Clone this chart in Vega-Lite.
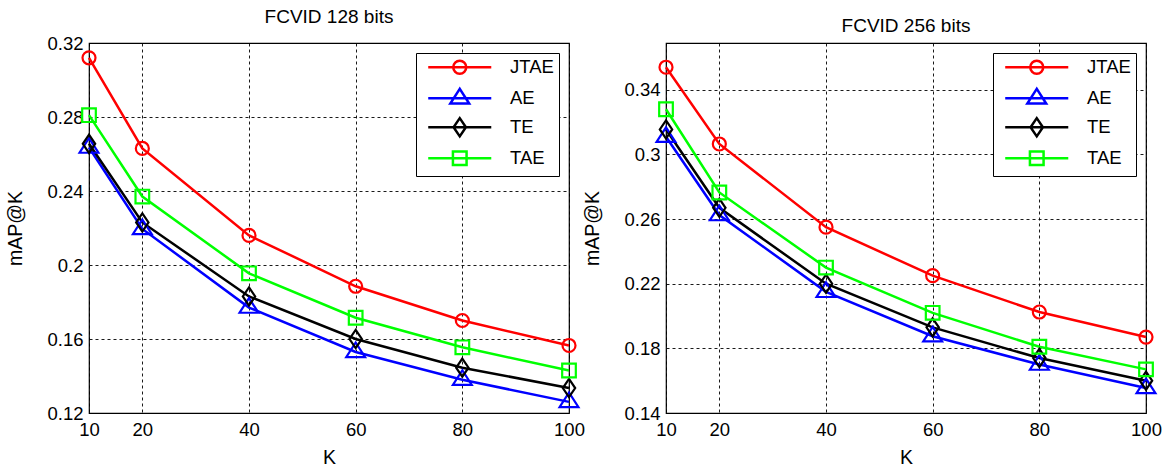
{
  "$schema": "https://vega.github.io/schema/vega-lite/v6.json",
  "background": "white",
  "padding": {"left": 5, "top": 7, "right": 5, "bottom": 5},
  "config": {
    "font": "Liberation Sans",
    "view": {"stroke": "black", "strokeWidth": 1.2},
    "axis": {
      "grid": true, "gridColor": "black", "gridDash": [3, 3], "gridWidth": 0.9, "gridOpacity": 1,
      "domain": false, "ticks": false, "labelFlush": false, "labelOverlap": false,
      "labelFont": "Liberation Sans", "labelFontSize": 18.5, "labelColor": "black",
      "titleFont": "Liberation Sans", "titleFontSize": 19.5, "titleFontWeight": "normal", "titleColor": "black"
    },
    "title": {"font": "Liberation Sans", "fontSize": 19, "fontWeight": "normal", "color": "black", "offset": 7},
    "legend": {
      "orient": "top-right", "offset": 10, "fillColor": "white", "strokeColor": "black",
      "padding": 5, "labelFont": "Liberation Sans", "labelFontSize": 18.5, "labelColor": "black",
      "symbolOffset": 29.5, "labelOffset": 41, "rowPadding": 4, "symbolSize": 169, "symbolStrokeWidth": 2.5, "cornerRadius": 0
    }
  },
  "data": {"values": [
    {"bits": "128", "K": 10, "series": "JTAE", "v": 0.312},
    {"bits": "128", "K": 20, "series": "JTAE", "v": 0.263},
    {"bits": "128", "K": 40, "series": "JTAE", "v": 0.216},
    {"bits": "128", "K": 60, "series": "JTAE", "v": 0.1885},
    {"bits": "128", "K": 80, "series": "JTAE", "v": 0.170},
    {"bits": "128", "K": 100, "series": "JTAE", "v": 0.1565},
    {"bits": "128", "K": 10, "series": "AE", "v": 0.2635},
    {"bits": "128", "K": 20, "series": "AE", "v": 0.2195},
    {"bits": "128", "K": 40, "series": "AE", "v": 0.177},
    {"bits": "128", "K": 60, "series": "AE", "v": 0.153},
    {"bits": "128", "K": 80, "series": "AE", "v": 0.138},
    {"bits": "128", "K": 100, "series": "AE", "v": 0.126},
    {"bits": "128", "K": 10, "series": "TE", "v": 0.2655},
    {"bits": "128", "K": 20, "series": "TE", "v": 0.223},
    {"bits": "128", "K": 40, "series": "TE", "v": 0.183},
    {"bits": "128", "K": 60, "series": "TE", "v": 0.160},
    {"bits": "128", "K": 80, "series": "TE", "v": 0.1445},
    {"bits": "128", "K": 100, "series": "TE", "v": 0.1335},
    {"bits": "128", "K": 10, "series": "TAE", "v": 0.281},
    {"bits": "128", "K": 20, "series": "TAE", "v": 0.237},
    {"bits": "128", "K": 40, "series": "TAE", "v": 0.1955},
    {"bits": "128", "K": 60, "series": "TAE", "v": 0.1715},
    {"bits": "128", "K": 80, "series": "TAE", "v": 0.1555},
    {"bits": "128", "K": 100, "series": "TAE", "v": 0.143},
    {"bits": "256", "K": 10, "series": "JTAE", "v": 0.354},
    {"bits": "256", "K": 20, "series": "JTAE", "v": 0.3065},
    {"bits": "256", "K": 40, "series": "JTAE", "v": 0.255},
    {"bits": "256", "K": 60, "series": "JTAE", "v": 0.225},
    {"bits": "256", "K": 80, "series": "JTAE", "v": 0.2025},
    {"bits": "256", "K": 100, "series": "JTAE", "v": 0.187},
    {"bits": "256", "K": 10, "series": "AE", "v": 0.311},
    {"bits": "256", "K": 20, "series": "AE", "v": 0.2625},
    {"bits": "256", "K": 40, "series": "AE", "v": 0.215},
    {"bits": "256", "K": 60, "series": "AE", "v": 0.1875},
    {"bits": "256", "K": 80, "series": "AE", "v": 0.170},
    {"bits": "256", "K": 100, "series": "AE", "v": 0.1555},
    {"bits": "256", "K": 10, "series": "TE", "v": 0.3155},
    {"bits": "256", "K": 20, "series": "TE", "v": 0.267},
    {"bits": "256", "K": 40, "series": "TE", "v": 0.220},
    {"bits": "256", "K": 60, "series": "TE", "v": 0.193},
    {"bits": "256", "K": 80, "series": "TE", "v": 0.174},
    {"bits": "256", "K": 100, "series": "TE", "v": 0.160},
    {"bits": "256", "K": 10, "series": "TAE", "v": 0.328},
    {"bits": "256", "K": 20, "series": "TAE", "v": 0.2765},
    {"bits": "256", "K": 40, "series": "TAE", "v": 0.230},
    {"bits": "256", "K": 60, "series": "TAE", "v": 0.202},
    {"bits": "256", "K": 80, "series": "TAE", "v": 0.181},
    {"bits": "256", "K": 100, "series": "TAE", "v": 0.167}
  ]},
  "bounds": "flush",
  "spacing": 97,
  "hconcat": [
    {
      "width": 480, "height": 370,
      "title": "FCVID 128 bits",
      "transform": [{"filter": "datum.bits == '128'"}],
      "layer": [
        {
          "mark": {"type": "line", "strokeWidth": 2.5},
          "encoding": {
            "x": {"field": "K", "type": "quantitative", "scale": {"domain": [10, 100], "nice": false, "zero": false}, "axis": {"values": [10, 20, 40, 60, 80, 100], "title": "K", "labelPadding": 7, "titlePadding": 10}},
            "y": {"field": "v", "type": "quantitative", "scale": {"domain": [0.12, 0.32], "nice": false, "zero": false}, "axis": {"values": [0.12, 0.16, 0.2, 0.24, 0.28, 0.32], "format": ".2~f", "title": "mAP@K", "labelPadding": 6, "titlePadding": 21}},
            "color": {"field": "series", "type": "nominal", "scale": {"domain": ["JTAE", "AE", "TE", "TAE"], "range": ["#ff0000", "#0000ff", "#000000", "#00ff00"]}, "legend": null}
          }
        },
        {
          "mark": {"type": "point", "filled": false, "size": 169, "strokeWidth": 2.2, "opacity": 1},
          "encoding": {
            "x": {"field": "K", "type": "quantitative"},
            "y": {"field": "v", "type": "quantitative"},
            "color": {"field": "series", "type": "nominal", "scale": {"domain": ["JTAE", "AE", "TE", "TAE"], "range": ["#ff0000", "#0000ff", "#000000", "#00ff00"]}, "legend": null},
            "shape": {"field": "series", "type": "nominal", "scale": {"domain": ["JTAE", "AE", "TE", "TAE"], "range": ["M1,0A1,1,0,1,1,-1,0A1,1,0,1,1,1,0Z", "M0,-1.45L-1.45,0.8L1.45,0.8Z", "M0,-1.4L0.95,0L0,1.4L-0.95,0Z", "M-1.05,-1.05L1.05,-1.05L1.05,1.05L-1.05,1.05Z"]}, "legend": null}
          }
        },
        {
          "transform": [{"filter": "datum.K < 0"}],
          "mark": {"type": "point", "filled": false, "size": 169, "strokeWidth": 2.5, "opacity": 1},
          "encoding": {
            "color": {"field": "series", "type": "nominal", "scale": {"domain": ["JTAE", "AE", "TE", "TAE"], "range": ["#ff0000", "#0000ff", "#000000", "#00ff00"]}, "legend": {"title": null}},
            "shape": {"field": "series", "type": "nominal", "scale": {"domain": ["JTAE", "AE", "TE", "TAE"], "range": ["M-4.85,0L4.85,0M1,0A1,1,0,1,1,-1,0A1,1,0,1,1,1,0", "M-4.85,0L4.85,0M0,-1.45L-1.45,0.8L1.45,0.8Z", "M-4.85,0L4.85,0M0,-1.4L0.95,0L0,1.4L-0.95,0Z", "M-4.85,0L4.85,0M-1.05,-1.05L1.05,-1.05L1.05,1.05L-1.05,1.05Z"]}, "legend": {"title": null}}
          }
        }
      ],
      "resolve": {"scale": {"color": "independent", "shape": "independent"}}
    },
    {
      "width": 480, "height": 370,
      "title": "FCVID 256 bits",
      "transform": [{"filter": "datum.bits == '256'"}],
      "layer": [
        {
          "mark": {"type": "line", "strokeWidth": 2.5},
          "encoding": {
            "x": {"field": "K", "type": "quantitative", "scale": {"domain": [10, 100], "nice": false, "zero": false}, "axis": {"values": [10, 20, 40, 60, 80, 100], "title": "K", "labelPadding": 7, "titlePadding": 10}},
            "y": {"field": "v", "type": "quantitative", "scale": {"domain": [0.14, 0.369], "nice": false, "zero": false}, "axis": {"values": [0.14, 0.18, 0.22, 0.26, 0.3, 0.34], "format": ".2~f", "title": "mAP@K", "labelPadding": 6, "titlePadding": 21}},
            "color": {"field": "series", "type": "nominal", "scale": {"domain": ["JTAE", "AE", "TE", "TAE"], "range": ["#ff0000", "#0000ff", "#000000", "#00ff00"]}, "legend": null}
          }
        },
        {
          "mark": {"type": "point", "filled": false, "size": 169, "strokeWidth": 2.2, "opacity": 1},
          "encoding": {
            "x": {"field": "K", "type": "quantitative"},
            "y": {"field": "v", "type": "quantitative"},
            "color": {"field": "series", "type": "nominal", "scale": {"domain": ["JTAE", "AE", "TE", "TAE"], "range": ["#ff0000", "#0000ff", "#000000", "#00ff00"]}, "legend": null},
            "shape": {"field": "series", "type": "nominal", "scale": {"domain": ["JTAE", "AE", "TE", "TAE"], "range": ["M1,0A1,1,0,1,1,-1,0A1,1,0,1,1,1,0Z", "M0,-1.45L-1.45,0.8L1.45,0.8Z", "M0,-1.4L0.95,0L0,1.4L-0.95,0Z", "M-1.05,-1.05L1.05,-1.05L1.05,1.05L-1.05,1.05Z"]}, "legend": null}
          }
        },
        {
          "transform": [{"filter": "datum.K < 0"}],
          "mark": {"type": "point", "filled": false, "size": 169, "strokeWidth": 2.5, "opacity": 1},
          "encoding": {
            "color": {"field": "series", "type": "nominal", "scale": {"domain": ["JTAE", "AE", "TE", "TAE"], "range": ["#ff0000", "#0000ff", "#000000", "#00ff00"]}, "legend": {"title": null}},
            "shape": {"field": "series", "type": "nominal", "scale": {"domain": ["JTAE", "AE", "TE", "TAE"], "range": ["M-4.85,0L4.85,0M1,0A1,1,0,1,1,-1,0A1,1,0,1,1,1,0", "M-4.85,0L4.85,0M0,-1.45L-1.45,0.8L1.45,0.8Z", "M-4.85,0L4.85,0M0,-1.4L0.95,0L0,1.4L-0.95,0Z", "M-4.85,0L4.85,0M-1.05,-1.05L1.05,-1.05L1.05,1.05L-1.05,1.05Z"]}, "legend": {"title": null}}
          }
        }
      ],
      "resolve": {"scale": {"color": "independent", "shape": "independent"}}
    }
  ]
}
